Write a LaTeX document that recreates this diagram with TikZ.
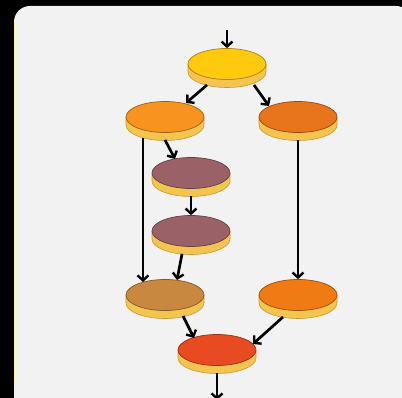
\documentclass[tikz,border=0pt]{standalone}
\usetikzlibrary{shapes.geometric,arrows.meta,calc}
\definecolor{panel}{HTML}{F2F2F2}
\definecolor{basefill}{HTML}{F3C54E}
\definecolor{basedraw}{HTML}{C9992E}
\definecolor{cA}{HTML}{FFC90E}
\definecolor{cB}{HTML}{F7931E}
\definecolor{cC}{HTML}{E8741C}
\definecolor{cD}{HTML}{9A6266}
\definecolor{cF}{HTML}{C98840}
\definecolor{cG}{HTML}{F07A14}
\definecolor{cH}{HTML}{E84A22}
\tikzset{
  disktop/.style={ellipse, minimum width=78pt, minimum height=31pt, inner sep=0pt,
    fill=#1, draw=#1!65!black, line width=0.7pt},
  flow/.style={line width=2.7pt, -{Straight Barb[length=5pt,width=11pt,line width=2.4pt]}},
}
\newcommand{\mydisk}[4]{% name, x, y, colour
  \fill[basefill, draw=basedraw, line width=0.6pt] (#2-39,#3) -- (#2-39,#3+8)
    arc[start angle=180, end angle=0, x radius=39, y radius=15.5] -- (#2+39,#3) -- cycle;
  \node[disktop=#4] (#1) at (#2,#3) {};
}
\begin{document}
\begin{tikzpicture}[x=1pt,y=-1pt]
\useasboundingbox (0,0) rectangle (402,398);
\fill[black] (0,0) rectangle (402,398);
\fill[panel] (14,6) [rounded corners=16pt] rectangle (412,412);
\draw[line width=0.8pt, yellow!35!panel] (14.4,22) -- (14.4,382);
\mydisk{A}{227}{64}{cA}
\mydisk{B}{165}{117}{cB}
\mydisk{C}{298}{117}{cC}
\mydisk{D}{191}{173}{cD}
\mydisk{E}{191}{231}{cD}
\mydisk{F}{165}{295}{cF}
\mydisk{G}{298}{295}{cG}
\mydisk{H}{217}{350}{cH}
\coordinate (in) at (227,30);
\coordinate (out) at (217,400);
\draw[flow] (in) -- (A.north);
\draw[flow] ($(A)+(-20,21)$) -- ($(B)+(21,-14)$);
\draw[flow] ($(A)+(27,21)$) -- ($(C)+(-29,-11)$);
\draw[flow] ($(B)+(-22,21)$) -- ($(F)+(-22,-13)$);
\draw[flow] ($(B)+(0,23)$) -- ($(D)+(-16,-14)$);
\draw[flow] ($(D)+(0,23)$) -- (E.north);
\draw[flow] ($(E)+(-9,23)$) -- ($(F)+(12,-15)$);
\draw[flow] ($(C)+(0,23)$) -- (G.north);
\draw[flow] ($(F)+(18,21)$) -- ($(H)+(-23,-12)$);
\draw[flow] ($(G)+(-15,22)$) -- ($(H)+(36,-6)$);
\draw[flow] ($(H)+(0,23)$) -- (out);
\end{tikzpicture}
\end{document}
